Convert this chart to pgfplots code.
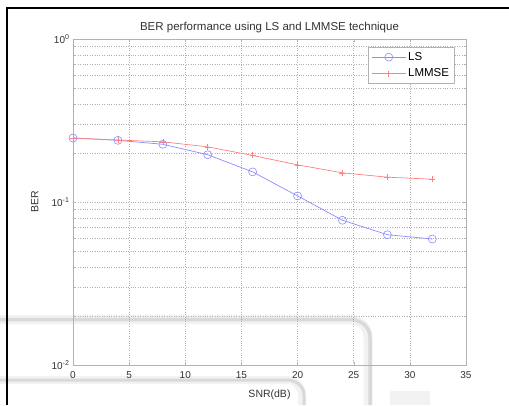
\documentclass[border=0pt]{standalone}
\usepackage{fontspec}
\setmainfont{Liberation Sans}
\usepackage{pgfplots}
\pgfplotsset{compat=1.18}
\definecolor{lsblue}{HTML}{8C8CFF}
\definecolor{lmred}{HTML}{FF8080}
\definecolor{gridgray}{HTML}{B0B0B0}
\begin{document}
\begin{tikzpicture}[x=1pt,y=1pt]
\useasboundingbox (0,0) rectangle (509,405);
\fill[white] (0,0) rectangle (509,405);
% scan smudges (behind the chart)
\draw[gray!10, line width=9pt] (0,85.5) -- (350,85.5) to[out=0,in=90] (368,68) -- (368,0);
\draw[gray!30, line width=3.5pt] (0,85.5) -- (350,85.5) to[out=0,in=90] (370,68) -- (370,0);
\draw[gray!10, line width=8pt] (0,25) -- (287,25) to[out=0,in=90] (302,10) -- (302,0);
\draw[gray!30, line width=3pt] (0,25) -- (287,25) to[out=0,in=90] (304,10) -- (304,0);
\fill[gray!10] (390,0) rectangle (430,14);
\begin{axis}[
  at={(73pt,40pt)}, anchor=south west,
  width=393pt, height=326pt, scale only axis,
  ymode=log,
  xmin=0, xmax=35, ymin=0.01, ymax=1,
  xtick={0,5,10,15,20,25,30,35},
  ytick={0.01,0.1,1},
  yticklabels={10\textsuperscript{-2},10\textsuperscript{-1},10\textsuperscript{0}},
  grid=both,
  major grid style={draw=gridgray, dotted, line width=0.5pt},
  minor grid style={draw=gridgray, dotted, line width=0.5pt},
  axis line style={draw=gray!60, line width=0.7pt},
  tick style={draw=gray!60},
  tick align=inside,
  major tick length=3pt, minor tick length=2pt,
  ticklabel style={font=\fontsize{10}{11}\selectfont, text=black!80},
  xticklabel style={yshift=-3pt},
  /pgf/number format/assume math mode=true,
  xlabel={SNR(dB)}, ylabel={BER},
  label style={font=\fontsize{10.5}{12}\selectfont, text=black!80},
  xlabel style={yshift=-4pt},
  ylabel style={at={(axis description cs:-0.097,0.5)}, anchor=center},
  title={BER performance using LS and LMMSE technique},
  title style={font=\fontsize{11.5}{13}\selectfont, text=black!80, yshift=-3pt},
  legend style={at={(0.97,0.975)}, anchor=north east, draw=gray!60,
    font=\fontsize{11.5}{13}\selectfont, row sep=3pt, inner sep=3pt},
  legend cell align=left,
  legend image code/.code={%
    \draw[mark repeat=2,mark phase=2] plot coordinates {(0pt,0pt) (17pt,0pt) (34pt,0pt)};},
]
\addplot[color=lsblue, line width=0.7pt, mark=o, mark size=4pt,
  mark options={line width=0.6pt}] coordinates {
  (0,0.247) (4,0.239) (8,0.226) (12,0.195) (16,0.153)
  (20,0.109) (24,0.0773) (28,0.063) (32,0.0593)
};
\addlegendentry{LS}
\addplot[color=lmred, line width=0.7pt, mark=+, mark size=3pt,
  mark options={line width=0.6pt}] coordinates {
  (0,0.247) (4,0.240) (8,0.234) (12,0.218) (16,0.193)
  (20,0.169) (24,0.151) (28,0.142) (32,0.138)
};
\addlegendentry{LMMSE}
\end{axis}
% scan border
\draw[black, line width=1.4pt] (7,0) -- (7,397) -- (509,397);
\end{tikzpicture}
\end{document}
